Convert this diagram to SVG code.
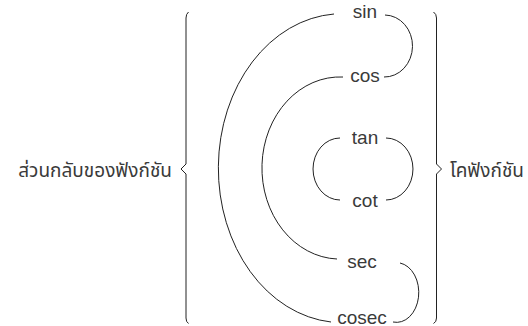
<svg xmlns="http://www.w3.org/2000/svg" width="528" height="326" viewBox="0 0 528 326">
  <style>
    .bg { fill: #ffffff; }
    .fn { font-family: "Liberation Sans", Arial, sans-serif; font-size: 19px; fill: #3a3a3a; text-anchor: middle; }
    .th { font-family: "Noto Sans Thai", "Liberation Sans", "DejaVu Sans", sans-serif; font-size: 19px; fill: #3a3a3a; }
    .ln { fill: none; stroke: #222222; stroke-width: 1; }
  </style>
  <rect class="bg" x="0" y="0" width="528" height="326"/>

  <!-- group labels and braces -->
  <g id="reciprocal">
    <text class="th" x="172" y="177" text-anchor="end">ส่วนกลับของฟังก์ชัน</text>
    <path class="ln" d="M188.5,12 Q186,14 186,18 L186,164 L181,169 L186,174 L186,318 Q186,322 188.5,323.5"/>
  </g>
  <g id="cofunction">
    <text class="th" x="450" y="177">โคฟังก์ชัน</text>
    <path class="ln" d="M433.5,12 Q436.5,14 436.5,18 L436.5,164 L441.5,169 L436.5,174 L436.5,318 Q436.5,322 433.5,323.5"/>
  </g>

  <!-- function nodes -->
  <g id="sin"><text class="fn" x="365" y="18">sin</text></g>
  <g id="cos"><text class="fn" x="365" y="82">cos</text></g>
  <g id="tan"><text class="fn" x="365" y="144">tan</text></g>
  <g id="cot"><text class="fn" x="365" y="207">cot</text></g>
  <g id="sec"><text class="fn" x="362" y="268">sec</text></g>
  <g id="cosec"><text class="fn" x="362" y="323.5">cosec</text></g>

  <!-- connectors -->
  <g id="connectors">
    <!-- reciprocal pairs (left side) -->
    <path class="ln" d="M334,14 A124,154.5 0 0 0 331,322"/>
    <path class="ln" d="M343,77 A78,91 0 0 0 337,259"/>
    <path class="ln" d="M340,138 A27,31 0 0 0 340,200"/>
    <!-- cofunction pairs (right side) -->
    <path class="ln" d="M385,15 A28,31 0 0 1 384,77"/>
    <path class="ln" d="M386,138 A27,31 0 0 1 386,200"/>
    <path class="ln" d="M400,263 A22,29.5 0 0 1 393,322"/>
  </g>
</svg>
